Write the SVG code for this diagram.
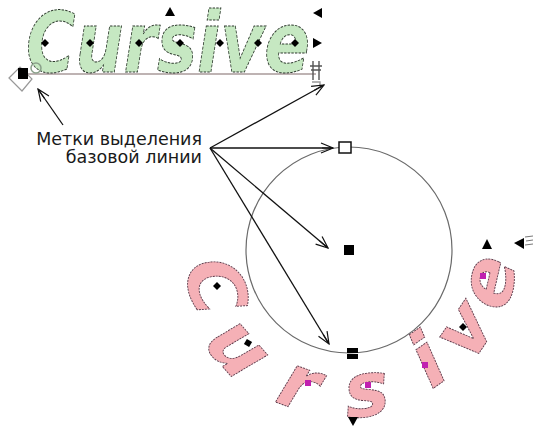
<svg xmlns="http://www.w3.org/2000/svg" width="533" height="427" viewBox="0 0 533 427">
<style>
.lbl{font-family:"DejaVu Sans",sans-serif;font-size:17.5px;fill:#1a1a1a;text-anchor:end}
.green{font-family:"DejaVu Sans",sans-serif;font-style:italic;font-weight:bold;fill:#c6e8c2;stroke:#2e3a2e;stroke-width:1;stroke-dasharray:3 1.5}
.pink{font-family:"DejaVu Sans",sans-serif;font-style:italic;font-weight:bold;font-size:76px;fill:#f5b0b6;stroke:#5b3b4b;stroke-width:0.9;stroke-dasharray:2 1;text-anchor:middle}
.arr{fill:none;stroke:#111;stroke-width:1.3;marker-end:url(#ah)}
.blk{fill:#000}
.mag{fill:#c020b0}
</style>
<defs>
<marker id="ah" viewBox="0 0 14 12" refX="13" refY="6" markerWidth="14" markerHeight="12" markerUnits="userSpaceOnUse" orient="auto">
<path d="M1,1 L13,6 L1,11 M2,6 L13,6" fill="none" stroke="#111" stroke-width="1.2"/>
</marker>
<path id="dia" d="M0,-4 L4,0 L0,4 L-4,0 Z"/>
</defs>
<rect width="533" height="427" fill="#fff"/>

<g id="straight-text">
<line x1="24" y1="74" x2="316" y2="74" stroke="#a89a9a" stroke-width="1.5"/>
<text class="green" x="26" y="72" font-size="84" textLength="284" lengthAdjust="spacingAndGlyphs">Cursive</text>
<g class="blk">
<use href="#dia" x="45" y="43"/><use href="#dia" x="90" y="43"/><use href="#dia" x="139" y="43"/><use href="#dia" x="180" y="43"/><use href="#dia" x="220" y="43"/><use href="#dia" x="258" y="43"/><use href="#dia" x="295" y="43"/>
<path d="M170,7 L175,16 L165,16 Z"/>
<path d="M322,8 L322,18 L313,13 Z"/>
<path d="M313,38 L313,48 L322,43 Z"/>
</g>
<g id="left-handle">
<path d="M9,78 L20,67 L32,79 L22,91 Z" fill="#fff" stroke="#999" stroke-width="1.2"/>
<rect x="18" y="68" width="10" height="11" fill="#000"/>
<circle cx="36" cy="68" r="5" fill="none" stroke="#8aa08a" stroke-width="1.5"/>
</g>
<g id="right-handle" stroke="#555" stroke-width="1.4" fill="none">
<path d="M313,61 L313,80 M319,61 L319,80 M311,70 L321,70 M310,66 L322,66"/>
<path d="M312,82 L320,82 L320,88" stroke="#999"/>
</g>
</g>

<g id="label">
<text class="lbl" x="202" y="145">Метки выделения</text>
<text class="lbl" x="202" y="163">базовой линии</text>
</g>

<g id="circle-node">
<circle cx="349" cy="250" r="103" fill="none" stroke="#6a6a6a" stroke-width="1.2"/>
<rect x="339" y="142" width="12" height="11" fill="#fff" stroke="#111" stroke-width="1.5"/>
<rect x="344" y="245" width="10" height="10" fill="#000"/>
<rect x="347" y="348" width="11" height="5" fill="#000"/>
<rect x="347" y="354" width="11" height="5" fill="#000"/>
</g>

<g id="curved-text">
<text class="pink" transform="translate(216,286) rotate(75)" y="27">C</text>
<text class="pink" transform="translate(236,350) rotate(48.5)" y="21">u</text>
<text class="pink" transform="translate(298,388) rotate(20)" y="21">r</text>
<text class="pink" transform="translate(367,395) rotate(-7)" y="21">s</text>
<text class="pink" transform="translate(430,365) rotate(-35)" y="21">i</text>
<text class="pink" transform="translate(468,332) rotate(-56)" y="21">v</text>
<text class="pink" transform="translate(492,283) rotate(-77)" y="21">e</text>
<g class="blk">
<use href="#dia" x="217" y="286"/><use href="#dia" x="463" y="327"/>
<rect x="245" y="340" width="6" height="6" transform="rotate(30 248 343)"/>
<path d="M487,239 L492,249 L482,249 Z"/>
<path d="M524,238 L524,249 L514,243 Z"/>
<path d="M348,417 L358,417 L353,426 Z"/>
</g>
<g class="mag">
<rect x="305" y="380" width="6" height="6"/><rect x="365" y="382" width="6" height="6"/><rect x="422" y="362" width="6" height="6"/><rect x="480" y="273" width="6" height="6"/>
</g>
<path d="M525,237 L533,236 M526,241 L533,240 M525,245 L533,244" stroke="#777" stroke-width="1"/>
</g>

<g id="connectors">
<line class="arr" x1="63" y1="125" x2="38" y2="89"/>
<line class="arr" x1="210" y1="148" x2="324" y2="85"/>
<line class="arr" x1="210" y1="148" x2="333" y2="148"/>
<line class="arr" x1="210" y1="148" x2="328" y2="248"/>
<line class="arr" x1="210" y1="148" x2="329" y2="344"/>
</g>
</svg>
